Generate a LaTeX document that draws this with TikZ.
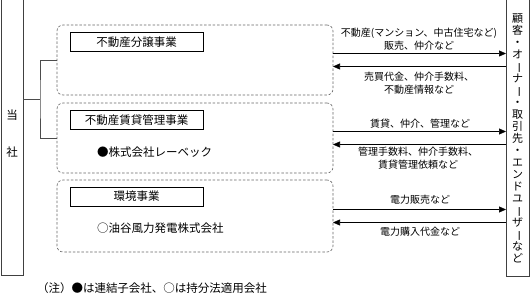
\documentclass[tikz,border=0pt]{standalone}
\usepackage{fontspec}
\setmainfont{Noto Sans CJK JP}
\usetikzlibrary{arrows.meta}
\newcommand{\choon}{\rotatebox[origin=c]{-90}{ー}}

\begin{document}
\begin{tikzpicture}[x=1pt,y=-1pt,
  frame/.style={draw=black!75,line width=0.7pt,inner sep=0pt,outer sep=0pt},
  group/.style={draw=black!60,dash pattern=on 2.5pt off 1.8pt,line width=0.6pt,rounded corners=6pt,minimum width=276pt,inner sep=0pt,outer sep=0pt},
  segbox/.style={draw,line width=0.6pt,minimum width=133pt,minimum height=19pt,inner sep=0pt,font=\fontsize{11.5}{13}\selectfont},
  firm/.style={anchor=west,inner sep=0pt,font=\fontsize{11.5}{13}\selectfont},
  lbl/.style={align=center,inner sep=0pt,font=\fontsize{10}{13}\selectfont},
  flow/.style={line width=0.6pt,-{Triangle[length=7pt,width=6pt]}},
  branch/.style={draw=black!70,line width=0.7pt}]
\useasboundingbox (0,0) rectangle (530,296);
\node[frame,minimum width=22pt,minimum height=279pt] (tosha) at (12,136) {};
\node[inner sep=0pt,font=\fontsize{11.5}{13}\selectfont] (toshaA) at (12,115) {当};
\node[inner sep=0pt,font=\fontsize{11.5}{13}\selectfont] (toshaB) at (12,152) {社};
\node[frame,minimum width=23pt,minimum height=280pt] (kokyaku) at (517.5,136) {};
\node[align=center,inner sep=0pt,font=\fontsize{11}{12}\selectfont] (kokyakuLbl) at (517.5,138)
  {顧\\客\\・\\オ\\\choon\\ナ\\\choon\\・\\取\\引\\先\\・\\エ\\ン\\ド\\ユ\\\choon\\ザ\\\choon\\な\\ど};

\node[group,minimum height=70pt] (bunjo) at (195,60) {};
\node[group,minimum height=70pt] (chintai) at (195,138) {};
\node[group,minimum height=72pt] (kankyo) at (195,216) {};

\node[segbox] (bunjoBox) at (136.5,42) {不動産分譲事業};
\node[segbox] (chintaiBox) at (136.5,120) {不動産賃貸管理事業};
\node[segbox] (kankyoBox) at (136.5,196.5) {環境事業};
\node[firm] (rebec) at (97,152) {●株式会社レーベック};
\node[firm] (yutani) at (97,228) {○油谷風力発電株式会社};

\coordinate (fork) at (40,99);
\draw[branch] (fork -| tosha.east) -- (fork);
\draw[branch] (bunjo.west) -| (fork) |- (chintai.west);

\coordinate (a1) at ([yshift=6.5pt]bunjo.east);
\coordinate (a2) at ([yshift=-6.5pt]bunjo.east);
\coordinate (a3) at ([yshift=6.5pt]chintai.east);
\coordinate (a4) at ([yshift=-6.5pt]chintai.east);
\coordinate (a5) at ([yshift=6.5pt]kankyo.east);
\coordinate (a6) at ([yshift=-6.5pt]kankyo.east);
\draw[flow] (a1) -- (a1 -| kokyaku.west);
\draw[flow] (a2 -| kokyaku.west) -- (a2);
\draw[flow] (a3) -- (a3 -| kokyaku.west);
\draw[flow] (a4 -| kokyaku.west) -- (a4);
\draw[flow] (a5) -- (a5 -| kokyaku.west);
\draw[flow] (a6 -| kokyaku.west) -- (a6);

\node[lbl] (l1) at (419,39.5) {不動産(マンション、中古住宅など)\\販売、仲介など};
\node[lbl] (l2) at (419,83) {売買代金、仲介手数料、\\不動産情報など};
\node[lbl] (l3) at (420,123.5) {賃貸、仲介、管理など};
\node[lbl] (l4) at (418,158.5) {管理手数料、仲介手数料、\\賃貸管理依頼など};
\node[lbl] (l5) at (420,200) {電力販売など};
\node[lbl] (l6) at (420,231.5) {電力購入代金など};

\node[inner sep=0pt,font=\fontsize{11.5}{13}\selectfont] (note) at (152,288) {（注）●は連結子会社、○は持分法適用会社};
\end{tikzpicture}
\end{document}
